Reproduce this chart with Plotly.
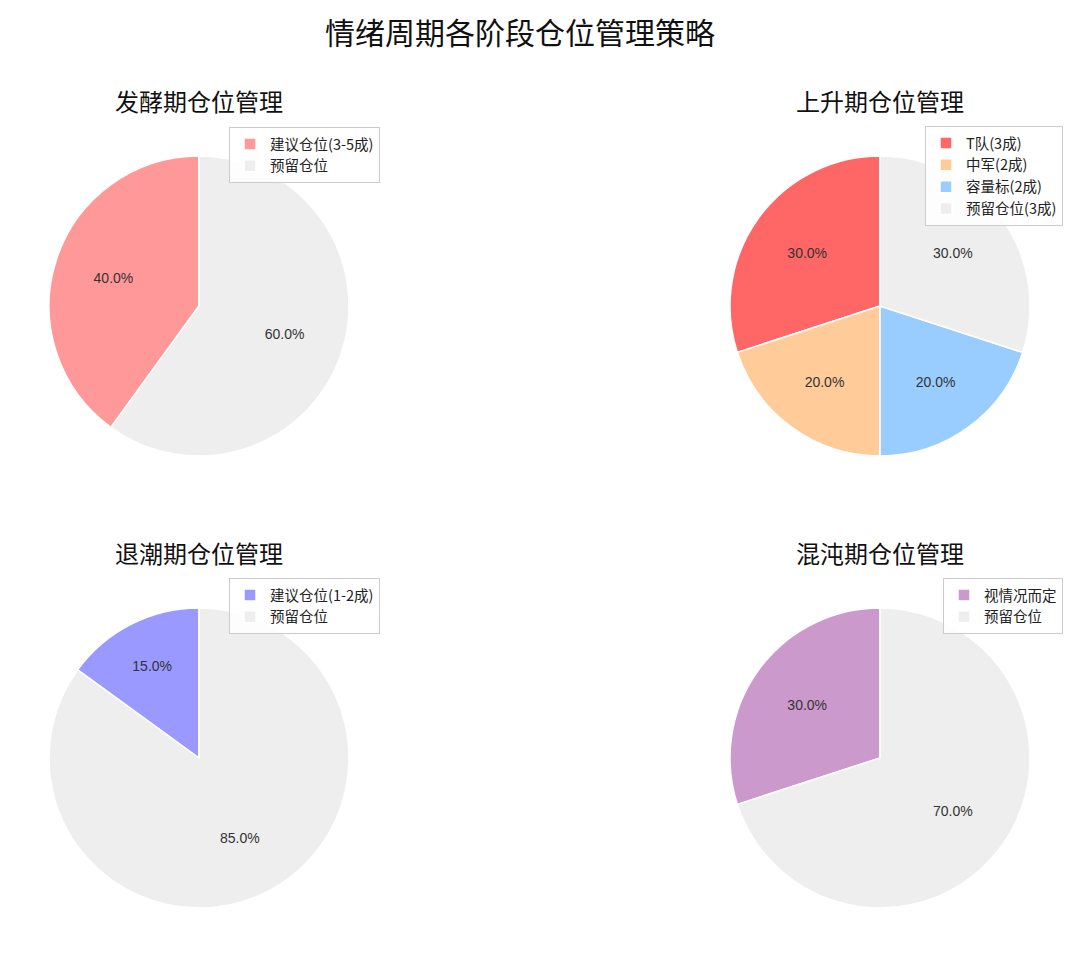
import plotly.graph_objects as go

W, H = 1080, 957
OFF = 8  # page body margin offset

main_title = "情绪周期各阶段仓位管理策略"

titles = ["发酵期仓位管理", "上升期仓位管理", "退潮期仓位管理", "混沌期仓位管理"]

labels_ferment = ["建议仓位(3-5成)", "预留仓位"]
values_ferment = [40, 60]
colors_ferment = ["#ff9999", "#eeeeee"]

labels_rise = ["T队(3成)", "中军(2成)", "容量标(2成)", "预留仓位(3成)"]
values_rise = [30, 20, 20, 30]
colors_rise = ["#ff6666", "#ffcc99", "#99ccff", "#eeeeee"]

labels_ebb = ["建议仓位(1-2成)", "预留仓位"]
values_ebb = [15, 85]
colors_ebb = ["#9999ff", "#eeeeee"]

labels_chaos = ["视情况而定", "预留仓位"]
values_chaos = [30, 70]
colors_chaos = ["#cc99cc", "#eeeeee"]

FONT = "Liberation Sans, Noto Sans CJK SC, sans-serif"
CJK = "Noto Sans CJK SC, sans-serif"


def px_x(p):
    return (p - OFF) / W


def px_y(p):
    return 1 - (p - OFF) / H


R = 150
centers = [(199, 306), (880, 306), (199, 758), (880, 758)]
datasets = [
    (labels_ferment, values_ferment, colors_ferment),
    (labels_rise, values_rise, colors_rise),
    (labels_ebb, values_ebb, colors_ebb),
    (labels_chaos, values_chaos, colors_chaos),
]
legend_names = ["legend", "legend2", "legend3", "legend4"]
# legend anchors: right edge x px, top y px
legend_pos = [(380, 127), (1063, 126), (380, 578), (1063, 578)]
title_pos = [(199, 101), (880, 101), (199, 552), (880, 552)]

fig = go.Figure()
for i, ((cx, cy), (labs, vals, cols), lg) in enumerate(zip(centers, datasets, legend_names)):
    # zero-width suffix keeps shared label names distinct per legend
    labs_u = [l + "\u200b" * i for l in labs]
    dom = dict(x=[px_x(cx - R), px_x(cx + R)], y=[px_y(cy + R), px_y(cy - R)])
    # start the first slice at 12 o'clock, going counter-clockwise
    rot = -360.0 * vals[0] / sum(vals)
    # base full pie with the colours and legend
    fig.add_trace(go.Pie(
        labels=labs_u, values=vals,
        marker=dict(colors=cols, line=dict(color="white", width=1.5)),
        sort=False, direction="counterclockwise", rotation=rot,
        textinfo="none", domain=dom, legend=lg, showlegend=True,
        hovertemplate="%{label}: %{percent:.1%}<extra></extra>",
    ))
    # transparent ring carrying the percentage labels at 0.6 radius
    fig.add_trace(go.Pie(
        labels=labs_u, values=vals, hole=0.2,
        marker=dict(colors=["rgba(0,0,0,0)"] * len(vals), line=dict(width=0)),
        sort=False, direction="counterclockwise", rotation=rot,
        texttemplate="%{percent:.1%}",
        textposition="inside",
        insidetextorientation="horizontal",
        textfont=dict(family=FONT, size=14, color="#333333"),
        domain=dom, legend=lg, showlegend=False,
        hoverinfo="skip",
    ))

layout_legends = {}
for lg, (rx, ty) in zip(legend_names, legend_pos):
    layout_legends[lg] = dict(
        x=px_x(rx), y=px_y(ty), xanchor="right", yanchor="top",
        bgcolor="rgba(255,255,255,0.85)", bordercolor="#cccccc", borderwidth=1,
        font=dict(family=CJK, size=14.5, color="#222222"),
        traceorder="normal",
    )

annotations = [dict(
    text=main_title, x=px_x(520), y=1.0, xref="paper", yref="paper",
    showarrow=False, xanchor="center", yanchor="top", borderpad=0,
    font=dict(family=CJK, size=30, color="#111111"),
)]
for t, (tx, ty) in zip(titles, title_pos):
    annotations.append(dict(
        text=t, x=px_x(tx), y=px_y(ty), xref="paper", yref="paper",
        showarrow=False, xanchor="center", yanchor="middle",
        font=dict(family=CJK, size=24, color="#111111"),
    ))

fig.update_layout(
    width=W, height=H,
    margin=dict(l=0, r=0, t=0, b=0),
    paper_bgcolor="white",
    plot_bgcolor="white",
    showlegend=True,
    annotations=annotations,
    **layout_legends,
)

fig.write_html("out.html")
